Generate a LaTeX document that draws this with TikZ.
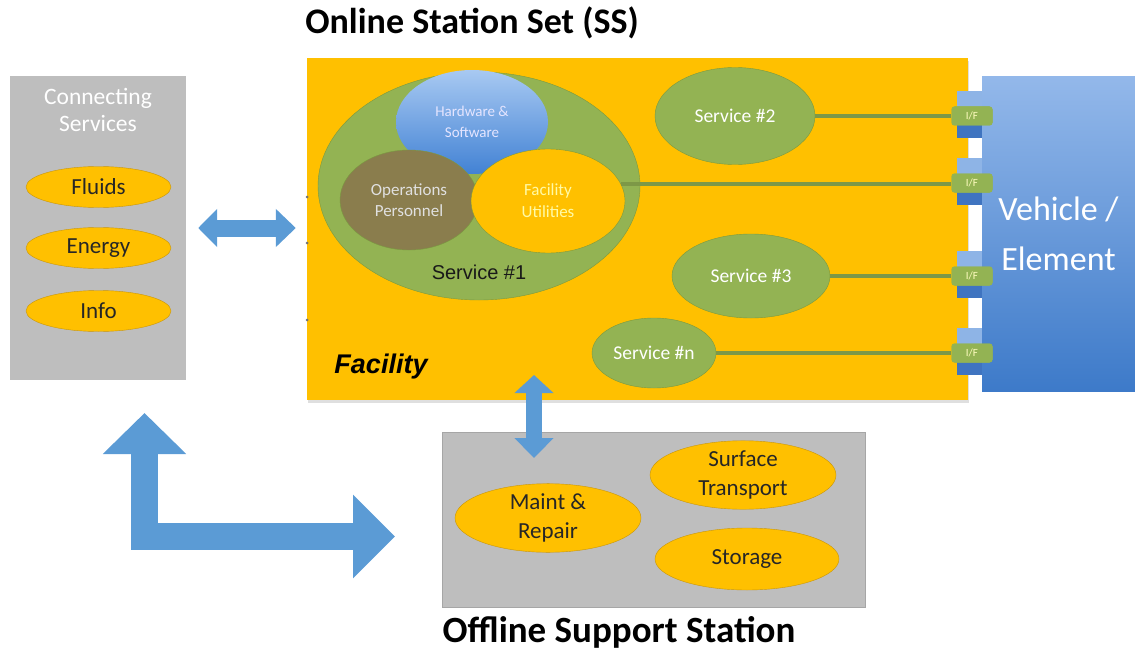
\documentclass[tikz,border=0pt]{standalone}
\usepackage{fontspec}
\setmainfont{Carlito}
\newfontfamily\arialfont{Liberation Sans}
\usetikzlibrary{shapes.geometric}
\usetikzlibrary{arrows.meta}
\usetikzlibrary{shadows}
\definecolor{facOrange}{HTML}{FFC000}
\definecolor{boxGray}{HTML}{BEBEBE}
\definecolor{svcGreen}{HTML}{93B353}
\definecolor{svcEdge}{HTML}{7A9A40}
\definecolor{arrBlue}{HTML}{5B9BD5}
\definecolor{opsBrown}{HTML}{8A7D4D}
\definecolor{ovalEdge}{HTML}{C8960A}
\definecolor{vehTop}{HTML}{93B8EA}
\definecolor{vehBot}{HTML}{3D7AC9}
\definecolor{hwTop}{HTML}{A8C9F2}
\definecolor{hwBot}{HTML}{4282D4}
\definecolor{ifLight}{HTML}{8EB4E6}
\definecolor{ifDark}{HTML}{3F74C0}
\tikzset{
  orangeOval/.style={ellipse, draw=ovalEdge, fill=facOrange, inner sep=0pt, align=center,
    text=black!85, font=\fontsize{23}{29}\selectfont},
  serviceOval/.style={ellipse, draw=svcEdge, fill=svcGreen, inner sep=0pt, align=center,
    text=white, font=\fontsize{19.5}{22}\selectfont},
  grayBox/.style={rectangle, fill=boxGray, inner sep=0pt},
  ifTab/.style={rectangle, rounded corners=3pt, fill=svcGreen, minimum width=41pt,
    minimum height=19pt, inner sep=0pt, text=yellow!25, font=\fontsize{11}{12}\selectfont},
  link/.style={svcGreen!85!black, line width=3.5pt},
  blockArrow/.style={arrBlue, line width=#1},
}
\newcommand{\drawIF}[2]{
   	\fill[ifLight] (957,#2-25) rectangle (982,#2);
   	\fill[ifDark] (957,#2) rectangle (982,#2+22);
   	\node[ifTab] (#1) at (972,#2) {I/F};
}

\begin{document}
\begin{tikzpicture}[x=1pt,y=-1pt]
\useasboundingbox (0,0) rectangle (1135,650);
%%%%%%%%%%%%%%%%%%

%Titles
\node[font=\bfseries\fontsize{36}{38}\selectfont] (ssTitle) at (472,23) {Online Station Set (SS)};
\node[font=\bfseries\fontsize{37}{39}\selectfont] (ossTitle) at (619,632) {Offline Support Station};

%Connecting services
\node[grayBox, minimum width=176pt, minimum height=304pt] (conn) at (98,228) {};
\node[text=white, align=center, font=\fontsize{23.5}{27}\selectfont] (connTitle) at (98,110) {Connecting\\Services};
\node[orangeOval, minimum width=145pt, minimum height=41pt] (fluids) at (98.5,187) {Fluids};
\node[orangeOval, minimum width=145pt, minimum height=41pt] (energy) at (98.5,248) {Energy};
\node[orangeOval, minimum width=145pt, minimum height=41pt] (info) at (98.5,311) {Info};

%Facility
\node[rectangle, fill=facOrange, minimum width=661pt, minimum height=342pt, inner sep=0pt,
  drop shadow={shadow xshift=1pt, shadow yshift=-3pt, opacity=0.25}] (fac) at (637.5,229) {};
\foreach \y in {197,243,320}
{
	\fill[black!55] (307,\y) circle (1.5pt);
}
\node[font=\arialfont\bfseries\itshape\fontsize{27}{30}\selectfont] (facLabel) at (381,367) {Facility};

% Service #1
\node[serviceOval, minimum width=322pt, minimum height=228pt] (s1) at (479,186) {};
\node[ellipse, top color=hwTop, bottom color=hwBot, minimum width=152pt,
  minimum height=104pt, inner sep=0pt, align=center, text=white!90!blue,
  font=\fontsize{15}{21}\selectfont] (hw) at (472,122) {Hardware \&\\Software};
\node[ellipse, draw=svcEdge, fill=opsBrown, minimum width=138pt, minimum height=100pt,
  inner sep=0pt, align=center, text=white!88!black,
  font=\fontsize{17}{21}\selectfont] (ops) at (409,200) {Operations\\Personnel};
\node[ellipse, draw=svcEdge, fill=facOrange, minimum width=154pt, minimum height=104pt,
  inner sep=0pt, align=center, text=yellow!35,
  font=\fontsize{17}{22}\selectfont] (fu) at (548,201) {Facility\\Utilities};
\node[font=\arialfont\fontsize{20}{22}\selectfont, text=black!90] (s1Label) at (479,272) {Service \#1};

% Other services
\node[serviceOval, minimum width=160pt, minimum height=97pt] (s2) at (735,116) {Service \#2};
\node[serviceOval, minimum width=158pt, minimum height=84pt] (s3) at (751,276) {Service \#3};
\node[serviceOval, minimum width=124pt, minimum height=70pt] (sn) at (654,353) {Service \#n};

%Vehicle
\node[rectangle, top color=vehTop, bottom color=vehBot, minimum width=153pt, minimum height=314pt,
  inner sep=0pt, align=center, text=white,
  font=\fontsize{34}{50}\selectfont] (veh) at (1058.5,234) {Vehicle /\\Element};

%Interfaces
\drawIF{if1}{116}
\drawIF{if2}{183}
\drawIF{if3}{276}
\drawIF{if4}{353}

% Connect services with interfaces
\draw[link] (s2.east) -- (if1.west);
\draw[link] (fu.13) -- (fu.13 -| if2.west);
\draw[link] (s3.east) -- (if3.west);
\draw[link] (sn.east) -- (if4.west);
\node[ifTab] at (if1) {I/F};
\node[ifTab] at (if2) {I/F};
\node[ifTab] at (if3) {I/F};
\node[ifTab] at (if4) {I/F};

%Offline support station
\node[grayBox, draw=black!35, minimum width=423pt, minimum height=175pt] (oss) at (653.5,519.5) {};
\node[orangeOval, minimum width=186pt, minimum height=62pt] (repair) at (548,518) {Maint \&\\Repair};
\node[orangeOval, minimum width=186pt, minimum height=62pt] (transport) at (743,475) {Surface\\Transport};
\node[orangeOval, minimum width=184pt, minimum height=62pt] (storage) at (747,559) {Storage};

%Block arrows
\draw[blockArrow=17pt, {Triangle[length=19pt,width=37pt]}-{Triangle[length=20pt,width=37pt]}]
  ([xshift=12pt]conn.east) -- ([xshift=-11pt]conn.east -| fac.west);
\coordinate (vTop) at (534,375);
\coordinate (vBot) at (534,458);
\draw[blockArrow=16pt, {Triangle[length=18pt,width=38pt]}-{Triangle[length=20pt,width=38pt]}] (vTop) -- (vBot);
\coordinate (lTop) at (144.5,413);
\coordinate (lRight) at (395,536.5);
\draw[blockArrow=27pt, line join=miter, {Triangle[length=41pt,width=81pt]}-{Triangle[length=42pt,width=81pt]}]
  (lTop) |- (lRight);
\end{tikzpicture}
\end{document}
